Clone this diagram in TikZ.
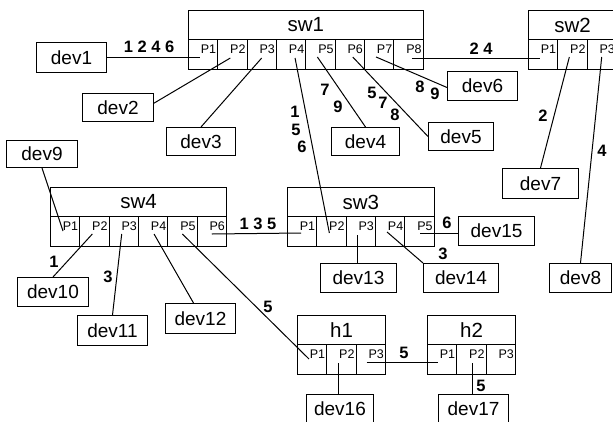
\documentclass[tikz,border=0pt]{standalone}
\usepackage{fontspec}
\setmainfont{Liberation Sans}
\usetikzlibrary{calc}
\tikzset{
  base/.style={draw, line width=1pt, inner sep=0pt, anchor=north west},
  devbox/.style={base, font=\fontsize{19}{21}\selectfont},
  titlebox/.style={base, font=\fontsize{20.5}{22}\selectfont},
  portbox/.style={base, minimum width=29.35pt, minimum height=29.5pt},
  portlabel/.style={inner sep=0pt, anchor=north east, font=\fontsize{12.5}{14}\selectfont},
  num/.style={inner sep=0pt, font=\bfseries\fontsize{16.5}{18}\selectfont},
  link/.style={line width=1pt},
}
\newcommand{\swnode}[5]{%
  \pgfmathsetmacro{\swW}{#4*29.35}%
  \node[titlebox, minimum width=\swW pt, minimum height=29pt] (#1) at (#2,#3) {#5};
  \foreach \i in {1,...,#4}{%
    \node[portbox] (#1p\i) at ({#2+29.35*(\i-1)},{#3+29}) {};
    \node[portlabel] (#1l\i) at ($(#1p\i.north east)+(-2,6)$) {P\i};
  }%
}
\newcommand{\devnode}[5]{%
  \node[devbox, minimum width=#4pt, minimum height=#5pt] (#1) at (#2,#3) {#1};
}
\begin{document}
\begin{tikzpicture}[x=1pt,y=-1pt]
\useasboundingbox (0,0) rectangle (613,421);
\clip (0,0) rectangle (613,421);
\fill[white] (0,0) rectangle (613,421);

% switches
\swnode{sw1}{188}{10}{8}{sw1}
\swnode{sw2}{528}{10}{3}{sw2}
\swnode{sw4}{50}{187}{6}{sw4}
\swnode{sw3}{287}{187}{5}{sw3}
\swnode{h1}{297}{315}{3}{h1}
\swnode{h2}{427}{315}{3}{h2}

% devices
\devnode{dev1}{36}{42}{70}{30}
\devnode{dev2}{82}{93}{71}{28}
\devnode{dev3}{166}{127}{69}{28}
\devnode{dev4}{331}{127}{68}{28}
\devnode{dev5}{428}{122}{65}{28}
\devnode{dev6}{447}{71}{70}{29}
\devnode{dev7}{502}{168}{76}{30}
\devnode{dev8}{549}{263}{62}{29}
\devnode{dev9}{6}{140}{71}{27}
\devnode{dev10}{17}{277}{71}{29}
\devnode{dev11}{77}{315}{70}{30}
\devnode{dev12}{165}{303}{70}{30}
\devnode{dev13}{320}{263}{76}{29}
\devnode{dev14}{423}{263}{75}{29}
\devnode{dev15}{458}{216}{76}{29}
\devnode{dev16}{306}{394}{67}{28}
\devnode{dev17}{438}{394}{70}{28}

% port connection points
\coordinate (a1) at ($(sw1p1.north west)+(12,18)$);
\coordinate (a2) at ($(sw1p2.north west)+(13,19)$);
\coordinate (a3) at ($(sw1p3.north west)+(15,19)$);
\coordinate (a4) at ($(sw1p4.north west)+(19,19)$);
\coordinate (a5) at ($(sw1p5.north west)+(12,18)$);
\coordinate (a6) at ($(sw1p6.north west)+(18,18)$);
\coordinate (a7) at ($(sw1p7.north west)+(12,18)$);
\coordinate (a8) at ($(sw1p8.north west)+(18.5,19)$);
\coordinate (b1) at ($(sw2p1.north west)+(12,19)$);
\coordinate (b2) at ($(sw2p2.north west)+(12,18)$);
\coordinate (b3) at ($(sw2p3.north west)+(15,18)$);
\coordinate (d1) at ($(sw4p1.north west)+(13,15)$);
\coordinate (d2) at ($(sw4p2.north west)+(13,18)$);
\coordinate (d3) at ($(sw4p3.north west)+(13,18)$);
\coordinate (d4) at ($(sw4p4.north west)+(16,18)$);
\coordinate (d5) at ($(sw4p5.north west)+(15,18)$);
\coordinate (d6) at ($(sw4p6.north west)+(15,18)$);
\coordinate (c1) at ($(sw3p1.north west)+(14,17)$);
\coordinate (c2) at ($(sw3p2.north west)+(13,17)$);
\coordinate (c3) at ($(sw3p3.north west)+(12,19)$);
\coordinate (c4) at ($(sw3p4.north west)+(12,16)$);
\coordinate (c5) at ($(sw3p5.north west)+(16,17)$);
\coordinate (e1) at ($(h1p1.north west)+(12,15)$);
\coordinate (e2) at ($(h1p2.north west)+(12,19)$);
\coordinate (e3) at ($(h1p3.north west)+(11,18)$);
\coordinate (f1) at ($(h2p1.north west)+(11,18)$);
\coordinate (f2) at ($(h2p2.north west)+(16,19)$);

% links
\draw[link] (dev1.east |- a1) -- (a1);
\draw[link] ($(dev2.north east)!0.35!(dev2.south east)$) -- (a2);
\draw[link] (dev3.north) -- (a3);
\draw[link] (a4) -- (c2);
\draw[link] (a5) -- (dev4.north);
\draw[link] (a6) -- (dev5.west);
\draw[link] (a7) -- ($(dev6.north west)!0.55!(dev6.south west)$);
\draw[link] (a8) -- (b1);
\draw[link] (b2) -- (dev7.north);
\draw[link] (b3) -- (dev8.north);
\draw[link] (dev9.south) -- (d1);
\draw[link] (d2) -- (dev10.north);
\draw[link] (d3) -- (dev11.north);
\draw[link] (d4) -- ($(dev12.north)+(-7,0)$);
\draw[link] (d5) -- (e1);
\draw[link] (d6) -- (c1);
\draw[link] (c3) -- (c3 |- dev13.north);
\draw[link] (c4) -- (dev14.north west);
\draw[link] (c5) -- (dev15.west |- c5);
\draw[link] (e2) -- (e2 |- dev16.north);
\draw[link] (e3) -- (f1);
\draw[link] (f2) -- (f2 |- dev17.north);

% numbers
\node[num] (n1) at (149,47) {1 2 4 6};
\node[num] (n2) at (295,112) {1};
\node[num] (n3) at (296,130) {5};
\node[num] (n4) at (302,147) {6};
\node[num] (n5) at (325,90) {7};
\node[num] (n6) at (338,107) {9};
\node[num] (n7) at (372,93) {5};
\node[num] (n8) at (383,103) {7};
\node[num] (n9) at (395,115) {8};
\node[num] (n10) at (420,87) {8};
\node[num] (n11) at (435,94) {9};
\node[num] (n12) at (481,49) {2 4};
\node[num] (n13) at (543,116) {2};
\node[num] (n14) at (602,151) {4};
\node[num] (n15) at (54,262) {1};
\node[num] (n16) at (108,277) {3};
\node[num] (n17) at (268,307) {5};
\node[num] (n18) at (258,224) {1 3 5};
\node[num] (n19) at (447,223) {6};
\node[num] (n20) at (443,254) {3};
\node[num] (n21) at (404,353) {5};
\node[num] (n22) at (481,386) {5};
\end{tikzpicture}
\end{document}
